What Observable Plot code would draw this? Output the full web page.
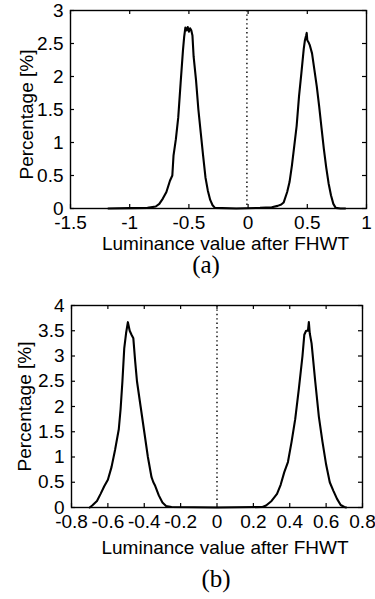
<!DOCTYPE html>
<html>
<head>
<meta charset="utf-8">
<script src="https://cdn.jsdelivr.net/npm/d3@7"></script>
<script src="https://cdn.jsdelivr.net/npm/@observablehq/plot@0.6"></script>
<style>
  html, body { margin: 0; padding: 0; background: #fff; }
  #wrap { position: relative; width: 375px; height: 599px; overflow: hidden; }
  .panel { position: absolute; left: 0; }
  .cap { position: absolute; font-family: "Liberation Serif", "Times New Roman", serif; font-size: 25px; color: #000; transform: translateX(-50%); white-space: nowrap; line-height: 1; }
</style>
</head>
<body>
<div id="wrap">
  <div id="pa" class="panel" style="top:0px"></div>
  <div class="cap" id="capA" style="left:206px; top:252px"></div>
  <div id="pb" class="panel" style="top:290px"></div>
  <div class="cap" id="capB" style="left:216px; top:566px"></div>
</div>
<script>
// ---------- Panel (a) data ----------
const aLum = [-1.18, -1.0, -0.85, -0.78, -0.75, -0.72, -0.69, -0.66, -0.64, -0.63, -0.61, -0.59, -0.57, -0.55, -0.54, -0.53, -0.52, -0.51, -0.50, -0.49, -0.48, -0.47, -0.46, -0.44, -0.42, -0.40, -0.38, -0.36, -0.34, -0.32, -0.30, -0.28, -0.1, 0.1, 0.2, 0.25, 0.28, 0.30, 0.33, 0.35, 0.37, 0.39, 0.41, 0.43, 0.45, 0.47, 0.48, 0.49, 0.495, 0.50, 0.51, 0.52, 0.54, 0.56, 0.58, 0.60, 0.62, 0.64, 0.66, 0.68, 0.70, 0.72, 0.74, 0.78, 0.82];
const aPct = [0.0, 0.005, 0.01, 0.03, 0.07, 0.15, 0.25, 0.42, 0.5, 0.8, 1.05, 1.38, 1.9, 2.4, 2.6, 2.74, 2.7, 2.75, 2.68, 2.73, 2.7, 2.62, 2.3, 1.95, 1.5, 1.15, 0.8, 0.47, 0.27, 0.13, 0.05, 0.01, 0.0, 0.01, 0.02, 0.04, 0.06, 0.09, 0.25, 0.4, 0.65, 0.95, 1.25, 1.7, 2.05, 2.42, 2.55, 2.62, 2.66, 2.55, 2.52, 2.48, 2.35, 2.1, 1.85, 1.55, 1.22, 0.9, 0.62, 0.38, 0.2, 0.07, 0.01, 0.0, 0.0];
const aXTicks = [-1.5, -1, -0.5, 0, 0.5, 1];
const aXTickLabels = ["-1.5", "-1", "-0.5", "0", "0.5", "1"];
const aYTicks = [0, 0.5, 1, 1.5, 2, 2.5, 3];
const aYTickLabels = ["0", "0.5", "1", "1.5", "2", "2.5", "3"];
const aDivider = [-0.01];

// ---------- Panel (b) data ----------
const bLum = [-0.70, -0.686, -0.66, -0.64, -0.62, -0.60, -0.58, -0.56, -0.54, -0.53, -0.52, -0.51, -0.50, -0.49, -0.48, -0.47, -0.46, -0.45, -0.44, -0.42, -0.40, -0.38, -0.36, -0.35, -0.34, -0.32, -0.30, -0.28, -0.25, 0.0, 0.25, 0.27, 0.30, 0.33, 0.35, 0.37, 0.39, 0.41, 0.43, 0.45, 0.47, 0.48, 0.49, 0.50, 0.505, 0.51, 0.52, 0.54, 0.56, 0.58, 0.60, 0.62, 0.64, 0.66, 0.68, 0.70, 0.71];
const bPct = [0.0, 0.04, 0.13, 0.27, 0.42, 0.55, 0.8, 1.15, 1.55, 1.95, 2.5, 3.15, 3.45, 3.67, 3.5, 3.42, 3.35, 2.9, 2.5, 2.0, 1.5, 1.0, 0.6, 0.5, 0.43, 0.24, 0.1, 0.03, 0.01, 0.0, 0.01, 0.04, 0.13, 0.27, 0.45, 0.7, 0.9, 1.3, 1.75, 2.35, 3.0, 3.42, 3.5, 3.5, 3.67, 3.45, 3.25, 2.5, 1.8, 1.3, 0.85, 0.5, 0.33, 0.17, 0.05, 0.01, 0.0];
const bXTicks = [-0.8, -0.6, -0.4, -0.2, 0, 0.2, 0.4, 0.6, 0.8];
const bXTickLabels = ["-0.8", "-0.6", "-0.4", "-0.2", "0", "0.2", "0.4", "0.6", "0.8"];
const bYTicks = [0, 0.5, 1, 1.5, 2, 2.5, 3, 3.5, 4];
const bYTickLabels = ["0", "0.5", "1", "1.5", "2", "2.5", "3", "3.5", "4"];
const bDivider = [0];

const xTitle = ["Luminance value after FHWT"];
const yTitle = ["Percentage [%]"];
const captions = ["(a)", "(b)"];

const FONT = "'Liberation Sans', Arial, Helvetica, sans-serif";
const FS = 19;

function panel(cfg) {
  const {lum, pct, xDomain, yDomain, xTicks, xLabels, yTicks, yLabels, divider,
         width, height, mt, mb, ml, mr, xTitleDx, xTitleDy, yTitleDx, yTitleDy, dividerInset} = cfg;
  const data = lum.map((v, i) => ({lum: v, pct: pct[i]}));
  const fw = width - ml - mr, fh = height - mt - mb;
  const tk = 4;
  const xFmt = d => xLabels[xTicks.indexOf(d)];
  const yFmt = d => yLabels[yTicks.indexOf(d)];
  return Plot.plot({
    width, height,
    marginTop: mt, marginBottom: mb, marginLeft: ml, marginRight: mr,
    style: {fontFamily: FONT, fontSize: FS + "px", color: "#000", background: "#fff", overflow: "visible"},
    x: {domain: xDomain},
    y: {domain: yDomain},
    marks: [
      Plot.ruleX(divider, {x: d => d, stroke: "#000", strokeWidth: 1.4, strokeDasharray: "1.4,3", insetBottom: dividerInset}),
      Plot.line(data, {x: "lum", y: "pct", stroke: "#000", strokeWidth: 2.1, strokeLinejoin: "round", curve: "linear"}),
      Plot.frame({stroke: "#000", strokeWidth: 1.4}),
      Plot.tickX(xTicks, {x: d => d, stroke: "#000", strokeWidth: 1.2, insetTop: fh - tk}),
      Plot.tickX(xTicks, {x: d => d, stroke: "#000", strokeWidth: 1.2, insetBottom: fh - tk}),
      Plot.tickY(yTicks, {y: d => d, stroke: "#000", strokeWidth: 1.2, insetRight: fw - tk}),
      Plot.tickY(yTicks, {y: d => d, stroke: "#000", strokeWidth: 1.2, insetLeft: fw - tk}),
      Plot.axisX({ticks: xTicks, tickFormat: xFmt, tickSize: 0, tickPadding: 7, label: null, fontSize: FS, fill: "#000"}),
      Plot.axisY({ticks: yTicks, tickFormat: yFmt, tickSize: 0, tickPadding: 7, label: null, fontSize: FS, fill: "#000"}),
      Plot.text(xTitle, {text: d => d, frameAnchor: "bottom", textAnchor: "middle", lineAnchor: "bottom", dx: xTitleDx, dy: xTitleDy, fontSize: FS, fill: "#000"}),
      Plot.text(yTitle, {text: d => d, frameAnchor: "left", textAnchor: "middle", rotate: -90, lineAnchor: "middle", dx: yTitleDx, dy: yTitleDy, fontSize: FS, fill: "#000"})
    ]
  });
}

document.getElementById("pa").append(panel({
  lum: aLum, pct: aPct, xDomain: [-1.5, 1], yDomain: [0, 3],
  xTicks: aXTicks, xLabels: aXTickLabels, yTicks: aYTicks, yLabels: aYTickLabels, divider: aDivider,
  width: 375, height: 255, mt: 10, mb: 47, ml: 70, mr: 9,
  xTitleDx: 7, xTitleDy: 41, yTitleDx: -44, yTitleDy: 5, dividerInset: 3
}));
document.getElementById("pb").append(panel({
  lum: bLum, pct: bPct, xDomain: [-0.8, 0.8], yDomain: [0, 4],
  xTicks: bXTicks, xLabels: bXTickLabels, yTicks: bYTicks, yLabels: bYTickLabels, divider: bDivider,
  width: 375, height: 270, mt: 15, mb: 53, ml: 71, mr: 13,
  xTitleDx: 8, xTitleDy: 46, yTitleDx: -47, yTitleDy: 0, dividerInset: 6
}));
document.getElementById("capA").textContent = captions[0];
document.getElementById("capB").textContent = captions[1];
</script>
</body>
</html>
